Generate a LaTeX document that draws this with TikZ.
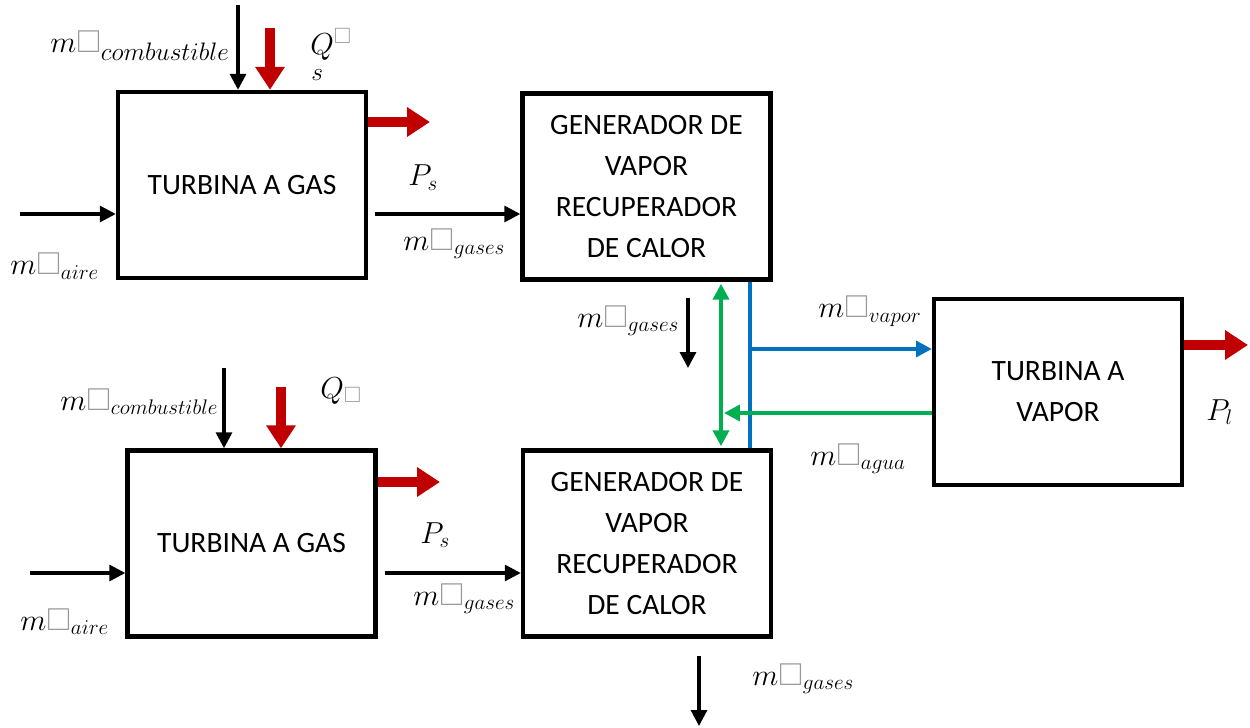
\documentclass[tikz,border=0pt]{standalone}
\usepackage{amsmath, amssymb}
\usepackage{xcolor}
\usepackage{fontspec}
\setmainfont{Carlito}
\usepackage{tikz}
\usetikzlibrary{arrows.meta, positioning, calc}

\definecolor{heatred}{RGB}{192,0,0}
\definecolor{vaporblue}{RGB}{0,112,192}
\definecolor{aguagreen}{RGB}{0,176,80}

\newcommand{\mflow}[1]{$m{\color{gray!80}\square}_{#1}$}

\begin{document}
\begin{tikzpicture}[
        block/.style={rectangle, draw, line width=2.5pt, minimum width=4.96cm, minimum height=3.72cm, align=center, font=\fontsize{16.8}{23.3}\selectfont},
        flow/.style={-{Triangle[width=9pt,length=9pt]}, line width=1.8pt, draw=black},
        heat/.style={-{Triangle[width=16pt,length=13pt]}, line width=5.5pt, draw=heatred},
        vapline/.style={line width=2.2pt, draw=vaporblue},
        lbl/.style={font=\fontsize{18}{20}\selectfont, inner sep=0pt, anchor=base west}
    ]
    \useasboundingbox (0,0) rectangle (25,14.54);

    % Blocks
    \node[block] (tg1) at (4.84, 10.84) {TURBINA A GAS};
    \node[block] (gv1) at (12.93, 10.81) {GENERADOR DE\\VAPOR\\RECUPERADOR\\DE CALOR};
    \node[block] (tg2) at (5.03, 3.67) {TURBINA A GAS};
    \node[block] (gv2) at (12.94, 3.67) {GENERADOR DE\\VAPOR\\RECUPERADOR\\DE CALOR};
    \node[block] (tv) at (21.16, 6.70) {TURBINA A\\VAPOR};

    % Free ends
    \coordinate (fuel1) at (4.76, 14.44);
    \coordinate (q1) at (5.40, 13.98);
    \coordinate (air1) at (0.40, 10.26);
    \coordinate (pw1) at (8.60, 12.10);
    \coordinate (out1) at (13.76, 7.18);
    \coordinate (fuel2) at (4.48, 7.18);
    \coordinate (q2) at (5.62, 6.80);
    \coordinate (air2) at (0.60, 3.08);
    \coordinate (pw2) at (8.80, 4.90);
    \coordinate (out2) at (13.98, 0.02);
    \coordinate (pwv) at (24.96, 7.64);
    \coordinate (blu) at (15.00, 7.56);

    % Upper train
    \draw[flow] (fuel1) -- (fuel1 |- tg1.north);
    \draw[heat] (q1) -- (q1 |- tg1.north);
    \draw[heat] (tg1.east |- pw1) -- (pw1);
    \draw[flow] (air1) -- (air1 -| tg1.west);
    \draw[flow] ([xshift=4pt]tg1.east |- air1) -- (gv1.west |- air1);
    \draw[flow] ([yshift=-9pt]gv1.south -| out1) -- (out1);

    % Lower train
    \draw[flow] (fuel2) -- (fuel2 |- tg2.north);
    \draw[heat] (q2) -- (q2 |- tg2.north);
    \draw[heat] (tg2.east |- pw2) -- (pw2);
    \draw[flow] (air2) -- (air2 -| tg2.west);
    \draw[flow] ([xshift=4pt]tg2.east |- air2) -- (gv2.west |- air2);
    \draw[flow] ([yshift=-10pt]gv2.south -| out2) -- (out2);

    % Steam cycle
    \draw[vapline] (gv1.south -| blu) -- (gv2.north -| blu);
    \draw[vapline, -{Triangle[width=9pt,length=9pt]}] (blu) -- (blu -| tv.west);
    \draw[flow, line width=2.2pt, draw=aguagreen, {Triangle[width=9pt,length=9pt]}-{Triangle[width=9pt,length=9pt]}] ([shift={(-0.58,-1.2pt)}]gv1.south -| blu) -- ([shift={(-0.58,1.2pt)}]gv2.north -| blu);
    \draw[flow, line width=2.2pt, draw=aguagreen] (tv.west |- 0,6.28) -- (14.48,6.28);
    \draw[heat] (tv.east |- pwv) -- (pwv);

    % Labels
    \node[lbl] (lf1) at (1.00, 13.48) {$m{\color{gray!80}\square}_{\hbox{\fontsize{14.5}{16}\selectfont$combustible$}}$};
    \node[lbl] (lq1) at (6.20, 13.44) {$Q^{\color{gray!80}\square}$};
    \node[lbl, font=\fontsize{15}{16}\selectfont] (lq1s) at (6.22, 12.92) {$s$};
    \node[lbl] (lp1) at (8.16, 10.82) {$P_{s}$};
    \node[lbl] (lg1) at (8.06, 9.54) {\mflow{gases}};
    \node[lbl] (la1) at (0.20, 9.04) {\mflow{aire}};
    \node[lbl] (lg2) at (11.54, 8.00) {\mflow{gases}};
    \node[lbl] (lv) at (16.36, 8.18) {\mflow{vapor}};
    \node[lbl] (lw) at (16.20, 5.24) {\mflow{agua}};
    \node[lbl] (lpl) at (24.12, 6.14) {$P_{l}$};
    \node[lbl] (lf2) at (1.20, 6.34) {\mflow{combustible}};
    \node[lbl] (lq2) at (6.40, 6.58) {$Q_{\color{gray!80}\square}$};
    \node[lbl] (lp2) at (8.40, 3.68) {$P_{s}$};
    \node[lbl] (lg3) at (8.26, 2.44) {\mflow{gases}};
    \node[lbl] (la2) at (0.40, 1.94) {\mflow{aire}};
    \node[lbl] (lg4) at (15.04, 0.84) {\mflow{gases}};

\end{tikzpicture}
\end{document}
